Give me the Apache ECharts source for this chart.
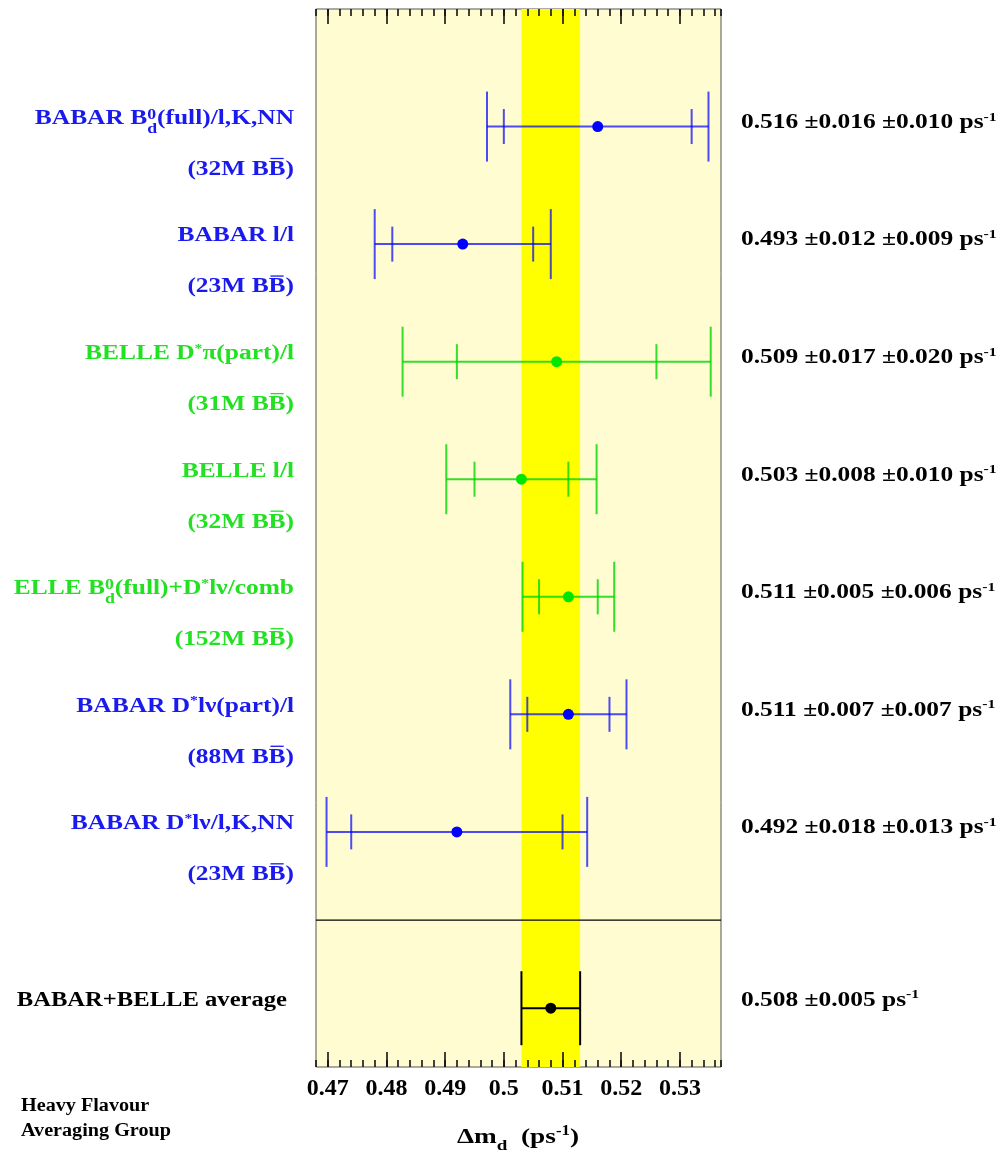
<!DOCTYPE html>
<html>
<head>
<meta charset="utf-8">
<script src="https://cdn.jsdelivr.net/npm/echarts@6/dist/echarts.min.js"></script>
<style>
  html, body { margin: 0; padding: 0; background: #ffffff; overflow: hidden; }
  /* the canvas starts a little in from the page edge, so over-long labels are cut there */
  #chart { margin-left: 13px; width: 991px; height: 1159px; }
</style>
</head>
<body>
<div id="chart"></div>
<script>
// B0 mixing frequency measurements, BABAR and BELLE, with their average.
const experiments = ['BABAR', 'BABAR', 'BELLE', 'BELLE', 'BELLE', 'BABAR', 'BABAR'];
const methods = [
  ['B', { sup: '0', sub: 'd' }, '(full)/l,K,NN'],
  ['l/l'],
  ['D', { sup: '*' }, 'π(part)/l'],
  ['l/l'],
  ['B', { sup: '0', sub: 'd' }, '(full)+D', { sup: '*' }, 'lν/comb'],
  ['D', { sup: '*' }, 'lν(part)/l'],
  ['D', { sup: '*' }, 'lν/l,K,NN']
];
const sampleSizes = ['32M', '23M', '31M', '32M', '152M', '88M', '23M'];
const dmValues   = [0.516, 0.493, 0.509, 0.503, 0.511, 0.511, 0.492];
const statErrors = [0.016, 0.012, 0.017, 0.008, 0.005, 0.007, 0.018];
const systErrors = [0.010, 0.009, 0.020, 0.010, 0.006, 0.007, 0.013];
const averageLabel = 'BABAR+BELLE average';
const averageValue = 0.508;
const averageError = 0.005;
const xTickValues = [0.47, 0.48, 0.49, 0.50, 0.51, 0.52, 0.53];

// ---- layout / style ----
const FONT = '"Liberation Serif", "Times New Roman", Times, serif';
const TEXT_SIZE = 20.5;
const TEXT_SCALE_X = 1.24;
const X_MIN = 0.468, X_MAX = 0.537;
const Y_MIN = 0, Y_MAX = 9;
const AVG_ROW = 8.5, SEPARATOR_ROW = 7.75;
const COLORS = {
  BABAR: { text: '#1a1aee', line: 'rgba(0,0,255,0.7)', dot: '#0000ff' },
  BELLE: { text: '#22e022', line: 'rgba(0,215,0,0.8)', dot: '#00e600' }
};

const measureCtx = document.createElement('canvas').getContext('2d');
function textWidth(str, size) {
  measureCtx.font = 'bold ' + size + 'px ' + FONT;
  return measureCtx.measureText(str).width;
}
const MID = 0.34; // em-box middle above the baseline

// Compose a line of text with super/subscripts; y is the capital-letter centre.
function buildLabel(parts, opt) {
  const S = opt.size;
  const base = MID * S;
  const pieces = [];
  let cursor = 0;
  const put = (str, size, baseline, x) => {
    pieces.push({
      type: 'text', x: x, y: baseline - MID * size,
      style: { text: str, fontSize: size, fontFamily: FONT, fontWeight: 'bold',
               fill: opt.color, align: 'left', verticalAlign: 'middle' }
    });
    return textWidth(str, size);
  };
  parts.forEach(p => {
    if (typeof p === 'string') {
      cursor += put(p, S, base, cursor);
    } else if (p.sup !== undefined && p.sub !== undefined) {
      const s = 0.7 * S;
      const w1 = put(p.sup, s, base - 0.27 * S, cursor);
      const w2 = put(p.sub, s, base + 0.42 * S, cursor);
      cursor += Math.max(w1, w2);
    } else if (p.sup !== undefined) {
      cursor += put(p.sup, 0.62 * S, base - 0.38 * S, cursor);
    } else if (p.sub !== undefined) {
      cursor += put(p.sub, 0.7 * S, base + 0.32 * S, cursor);
    } else if (p.bar !== undefined) {
      const start = cursor;
      const wd = put(p.bar, S, base, cursor);
      const yb = base - 0.66 * S - 4.5;
      pieces.push({ type: 'line', shape: { x1: start + 1.5, y1: yb, x2: start + wd - 1.5, y2: yb },
                    style: { stroke: opt.color, lineWidth: 1.3 } });
      cursor += wd;
    }
  });
  const shift = opt.align === 'right' ? -cursor : (opt.align === 'center' ? -cursor / 2 : 0);
  pieces.forEach(el => {
    if (el.type === 'line') { el.shape.x1 += shift; el.shape.x2 += shift; }
    else { el.x += shift; }
  });
  return { type: 'group', x: opt.x, y: opt.y, scaleX: opt.scaleX || TEXT_SCALE_X, silent: true, children: pieces };
}

function resultParts(value, errors) {
  let s = value.toFixed(3);
  errors.forEach(e => { s += ' ±' + e.toFixed(3); });
  return [s + ' ps', { sup: '-1' }];
}

function errorBar(api, value, row, inner, outer, lineColor, dotColor, tickOuter, tickInner) {
  const [cx, cy] = api.coord([value, row]);
  const xl = api.coord([value - outer, row])[0];
  const xr = api.coord([value + outer, row])[0];
  const els = [];
  const seg = (x1, y1, x2, y2) => els.push({ type: 'line', shape: { x1, y1, x2, y2 },
    style: { stroke: lineColor, lineWidth: 2 } });
  seg(xl, cy, xr, cy);
  seg(xl, cy - tickOuter, xl, cy + tickOuter);
  seg(xr, cy - tickOuter, xr, cy + tickOuter);
  if (inner !== null) {
    const il = api.coord([value - inner, row])[0];
    const ir = api.coord([value + inner, row])[0];
    seg(il, cy - tickInner, il, cy + tickInner);
    seg(ir, cy - tickInner, ir, cy + tickInner);
  }
  els.push({ type: 'circle', shape: { cx, cy, r: 5.5 }, style: { fill: dotColor } });
  return { els, cx, cy };
}

const measurementData = dmValues.map((v, i) => [i + 1, v, statErrors[i], systErrors[i]]);

// horizontal anchors, in canvas pixels
const LEFT_X = 281, RIGHT_X = 728;

const chart = echarts.init(document.getElementById('chart'), null, { renderer: 'canvas' });

const tickStyle = { color: '#111', width: 1.6 };
const plotRect = { left: 303, right: 283, top: 9, bottom: 92, outerBoundsMode: 'none' };

// grid 0 carries the data and the minor ticks; grid 1 (same rectangle) carries major ticks and labels
function minorAxis(position) {
  return { type: 'value', gridIndex: 0, position, min: X_MIN, max: X_MAX, interval: 0.002, z: 5,
    axisLine: { show: false, onZero: false }, splitLine: { show: false },
    axisTick: { show: true, inside: true, length: 7, lineStyle: tickStyle },
    axisLabel: { show: false } };
}
function majorAxis(position, withLabels) {
  return { type: 'value', gridIndex: 1, position, min: X_MIN, max: X_MAX, z: 5,
    axisLine: { show: false, onZero: false }, splitLine: { show: false },
    axisTick: { show: true, inside: true, length: 15, customValues: xTickValues, lineStyle: tickStyle },
    axisLabel: withLabels ? {
      show: true, customValues: xTickValues, margin: 10,
      fontFamily: FONT, fontWeight: 'bold', fontSize: 24, color: '#000',
      formatter: v => String(parseFloat(v.toFixed(2)))
    } : { show: false } };
}

const option = {
  backgroundColor: '#ffffff',
  animation: false,
  grid: [
    Object.assign({ show: true, backgroundColor: '#fffcd2', borderColor: '#555', borderWidth: 1 }, plotRect),
    Object.assign({ show: false }, plotRect)
  ],
  xAxis: [minorAxis('bottom'), minorAxis('top'), majorAxis('bottom', true), majorAxis('top', false)],
  yAxis: [
    { type: 'value', gridIndex: 0, min: Y_MIN, max: Y_MAX, inverse: true, show: false },
    { type: 'value', gridIndex: 1, min: Y_MIN, max: Y_MAX, inverse: true, show: false }
  ],
  series: [
    { // average band
      type: 'custom', z: 1, silent: true, xAxisIndex: 0, yAxisIndex: 0,
      data: [[averageValue, averageError]],
      renderItem: (params, api) => {
        const v = api.value(0), e = api.value(1);
        const cs = params.coordSys;
        const x1 = api.coord([v - e, Y_MIN])[0];
        const x2 = api.coord([v + e, Y_MIN])[0];
        return { type: 'rect', shape: { x: x1, y: cs.y, width: x2 - x1, height: cs.height },
                 style: { fill: '#ffff00' } };
      },
      encode: { x: 0 }
    },
    { // separator between measurements and average
      type: 'custom', z: 2, silent: true, xAxisIndex: 0, yAxisIndex: 0,
      data: [[SEPARATOR_ROW]],
      renderItem: (params, api) => {
        const cs = params.coordSys;
        const y = api.coord([X_MIN, api.value(0)])[1];
        return { type: 'line', shape: { x1: cs.x, y1: y, x2: cs.x + cs.width, y2: y },
                 style: { stroke: '#000', lineWidth: 1.2 } };
      },
      encode: { y: 0 }
    },
    { // individual measurements
      type: 'custom', z: 3, silent: true, clip: false, xAxisIndex: 0, yAxisIndex: 0,
      data: measurementData,
      encode: { x: 1, y: 0 },
      renderItem: (params, api) => {
        const i = params.dataIndex;
        const row = api.value(0), v = api.value(1), st = api.value(2), sy = api.value(3);
        const tot = Math.sqrt(st * st + sy * sy);
        const c = COLORS[experiments[i]];
        const bar = errorBar(api, v, row, st, tot, c.line, c.dot, 35, 17.5);
        const children = bar.els.slice();
        children.push(buildLabel([experiments[i] + ' ', ...methods[i]],
          { size: TEXT_SIZE, color: c.text, align: 'right', x: LEFT_X, y: bar.cy - 8 }));
        children.push(buildLabel(['(' + sampleSizes[i] + ' B', { bar: 'B' }, ')'],
          { size: TEXT_SIZE, color: c.text, align: 'right', x: LEFT_X, y: bar.cy + 43 }));
        children.push(buildLabel(resultParts(v, [st, sy]),
          { size: TEXT_SIZE, color: '#000', align: 'left', x: RIGHT_X, y: bar.cy - 4 }));
        return { type: 'group', children };
      }
    },
    { // combined average
      type: 'custom', z: 3, silent: true, clip: false, xAxisIndex: 0, yAxisIndex: 0,
      data: [[AVG_ROW, averageValue, averageError]],
      encode: { x: 1, y: 0 },
      renderItem: (params, api) => {
        const row = api.value(0), v = api.value(1), e = api.value(2);
        const bar = errorBar(api, v, row, null, e, '#000', '#000', 37, 0);
        const children = bar.els.slice();
        children.push(buildLabel([averageLabel],
          { size: TEXT_SIZE, color: '#000', align: 'right', x: 274, y: bar.cy - 8, scaleX: 1.2 }));
        children.push(buildLabel(resultParts(v, [e]),
          { size: TEXT_SIZE, color: '#000', align: 'left', x: RIGHT_X, y: bar.cy - 8 }));
        return { type: 'group', children };
      }
    }
  ],
  graphic: [
    buildLabel(['Δm', { sub: 'd' }, '  (ps', { sup: '-1' }, ')'],
      { size: 22, color: '#000', align: 'center', x: 505, y: 1137 }),
    buildLabel(['Heavy Flavour'], { size: 18, color: '#000', align: 'left', x: 8, y: 1106, scaleX: 1.12 }),
    buildLabel(['Averaging Group'], { size: 18, color: '#000', align: 'left', x: 8, y: 1131, scaleX: 1.12 })
  ]
};

chart.setOption(option);
</script>
</body>
</html>
